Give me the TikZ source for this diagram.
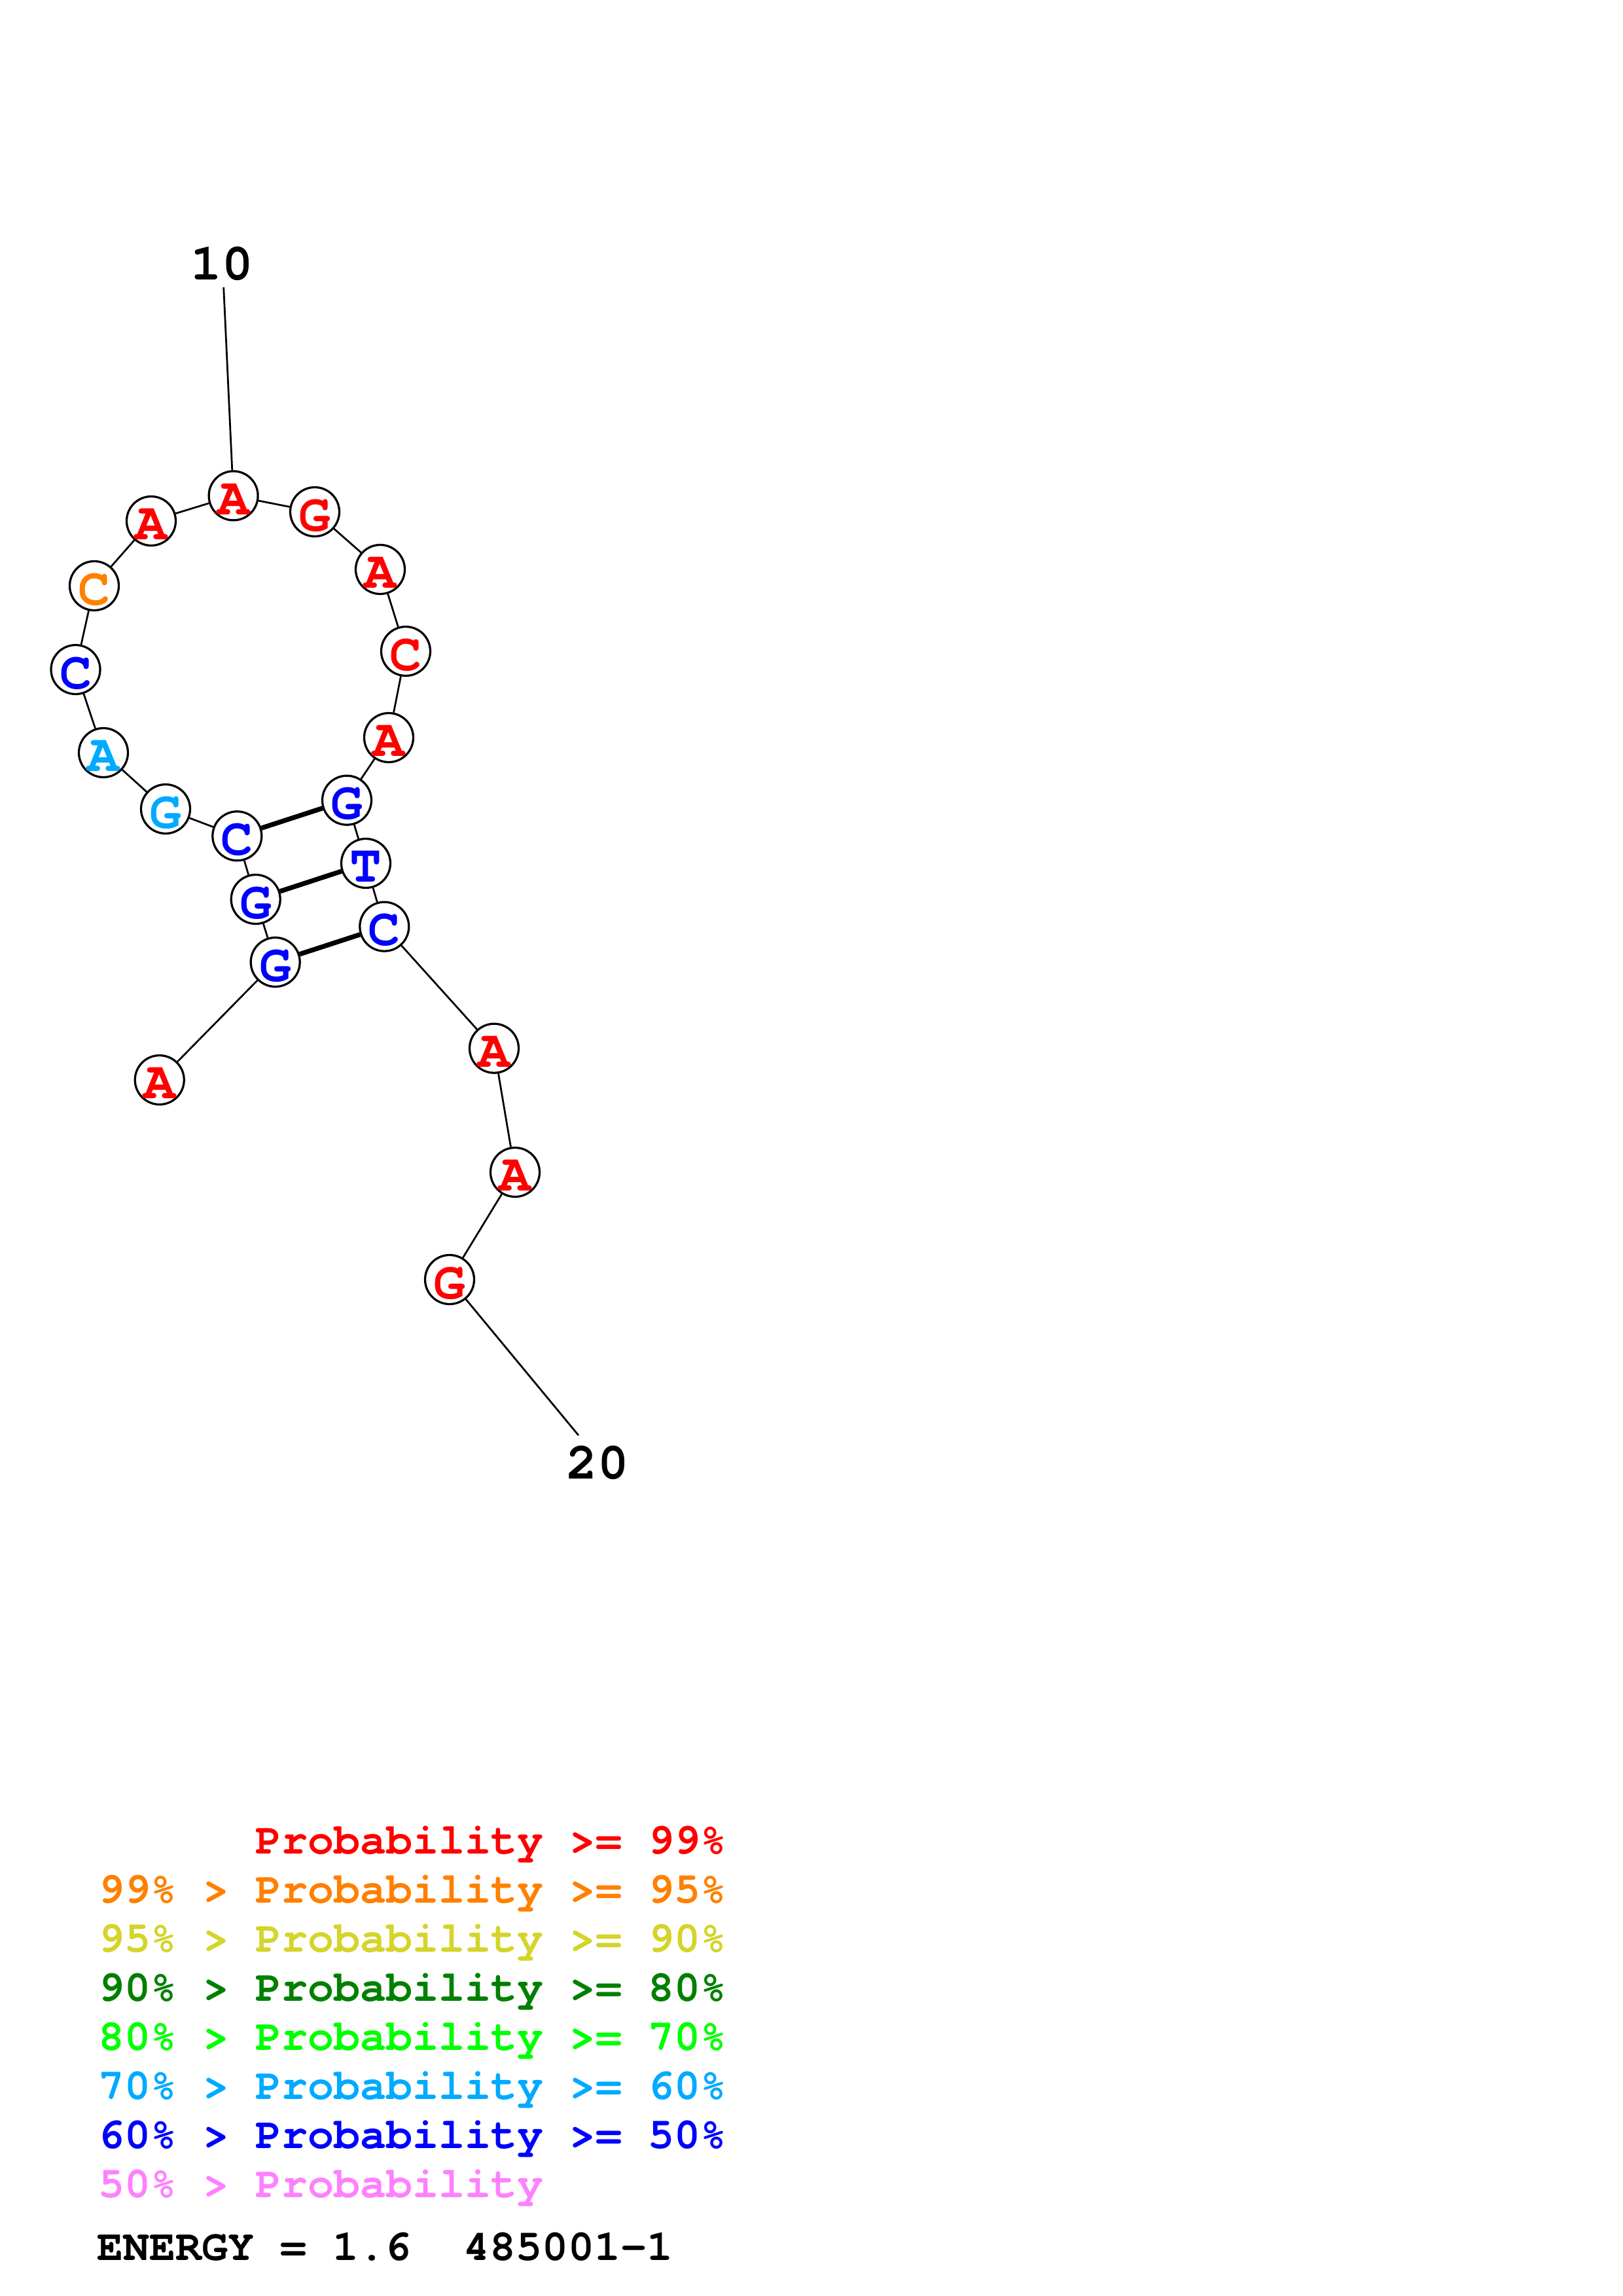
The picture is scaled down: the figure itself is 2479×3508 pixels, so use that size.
\documentclass[tikz,border=0pt]{standalone}
\usepackage{fontspec}
\newfontfamily\cur{texgyrecursor-bold.otf}
\definecolor{cA}{RGB}{255,0,0}
\definecolor{cB}{RGB}{255,128,0}
\definecolor{cC}{RGB}{212,212,42}
\definecolor{cD}{RGB}{0,128,0}
\definecolor{cE}{RGB}{0,255,0}
\definecolor{cF}{RGB}{0,170,255}
\definecolor{cG}{RGB}{0,0,255}
\definecolor{cH}{RGB}{255,128,255}
\newcommand{\ntl}[1]{\raisebox{-1.2pt}[\height][0pt]{#1}}
\tikzset{
  nt/.style={circle,draw=black,fill=white,line width=0.78pt,minimum size=18pt,inner sep=0pt,font=\cur\fontsize{19.5}{19.5}\selectfont},
  bb/.style={line width=0.66pt,black},
  bp/.style={line width=1.75pt,black},
  numlab/.style={anchor=base,inner sep=0pt,font=\cur\fontsize{19}{19}\selectfont},
  leg/.style={anchor=base west,inner sep=0pt,font=\cur\fontsize{16}{16}\selectfont}
}
\begin{document}
\begin{tikzpicture}[x=0.24pt,y=-0.24pt]
\useasboundingbox (0,0) rectangle (2479,3508);
% nucleotides
\node[nt,text=cA] (n1) at (243.75,1650) {\ntl{A}};
\node[nt,text=cG] (n2) at (420.7,1470) {\ntl{G}};
\node[nt,text=cG] (n3) at (390.7,1374) {\ntl{G}};
\node[nt,text=cG] (n4) at (362.3,1277.3) {\ntl{C}};
\node[nt,text=cF] (n5) at (253,1236) {\ntl{G}};
\node[nt,text=cF] (n6) at (158,1150) {\ntl{A}};
\node[nt,text=cG] (n7) at (115.5,1023) {\ntl{C}};
\node[nt,text=cB] (n8) at (144,895) {\ntl{C}};
\node[nt,text=cA] (n9) at (231,796) {\ntl{A}};
\node[nt,text=cA] (n10) at (356.6,757.4) {\ntl{A}};
\node[nt,text=cA] (n11) at (481,782) {\ntl{G}};
\node[nt,text=cA] (n12) at (581,870) {\ntl{A}};
\node[nt,text=cA] (n13) at (620,995) {\ntl{C}};
\node[nt,text=cA] (n14) at (594,1127) {\ntl{A}};
\node[nt,text=cG] (n15) at (530,1222.7) {\ntl{G}};
\node[nt,text=cG] (n16) at (559,1319) {\ntl{T}};
\node[nt,text=cG] (n17) at (587.3,1415.7) {\ntl{C}};
\node[nt,text=cA] (n18) at (755,1601.7) {\ntl{A}};
\node[nt,text=cA] (n19) at (787,1791) {\ntl{A}};
\node[nt,text=cA] (n20) at (687,1955) {\ntl{G}};
% backbone
\draw[bb] (n1) -- (n2) -- (n3) -- (n4) -- (n5) -- (n6) -- (n7) -- (n8) -- (n9) -- (n10)
  -- (n11) -- (n12) -- (n13) -- (n14) -- (n15) -- (n16) -- (n17) -- (n18) -- (n19) -- (n20);
% base pairs
\draw[bp] (n4) -- (n15);
\draw[bp] (n3) -- (n16);
\draw[bp] (n2) -- (n17);
% numbering
\node[numlab] (lab10) at (339,428) {10};
\coordinate (e10) at (341.7,439);
\draw[bb] (e10) -- (n10);
\node[numlab] (lab20) at (913,2259) {20};
\coordinate (e20) at (884,2193);
\draw[bb] (n20) -- (e20);
% legend
\node[leg,text=cA] (g1) at (150,2832) {\hphantom{99\%~>~}Probability~>=~99\%};
\node[leg,text=cB] (g2) at (150,2907) {99\%~>~Probability~>=~95\%};
\node[leg,text=cC] (g3) at (150,2982) {95\%~>~Probability~>=~90\%};
\node[leg,text=cD] (g4) at (150,3057.5) {90\%~>~Probability~>=~80\%};
\node[leg,text=cE] (g5) at (150,3132.5) {80\%~>~Probability~>=~70\%};
\node[leg,text=cF] (g6) at (150,3207.6) {70\%~>~Probability~>=~60\%};
\node[leg,text=cG] (g7) at (150,3282.7) {60\%~>~Probability~>=~50\%};
\node[leg,text=cH] (g8) at (150,3357.8) {50\%~>~Probability};
\node[leg,text=black] (en) at (148,3453) {ENERGY~=~1.6~~485001-1};
\end{tikzpicture}
\end{document}
